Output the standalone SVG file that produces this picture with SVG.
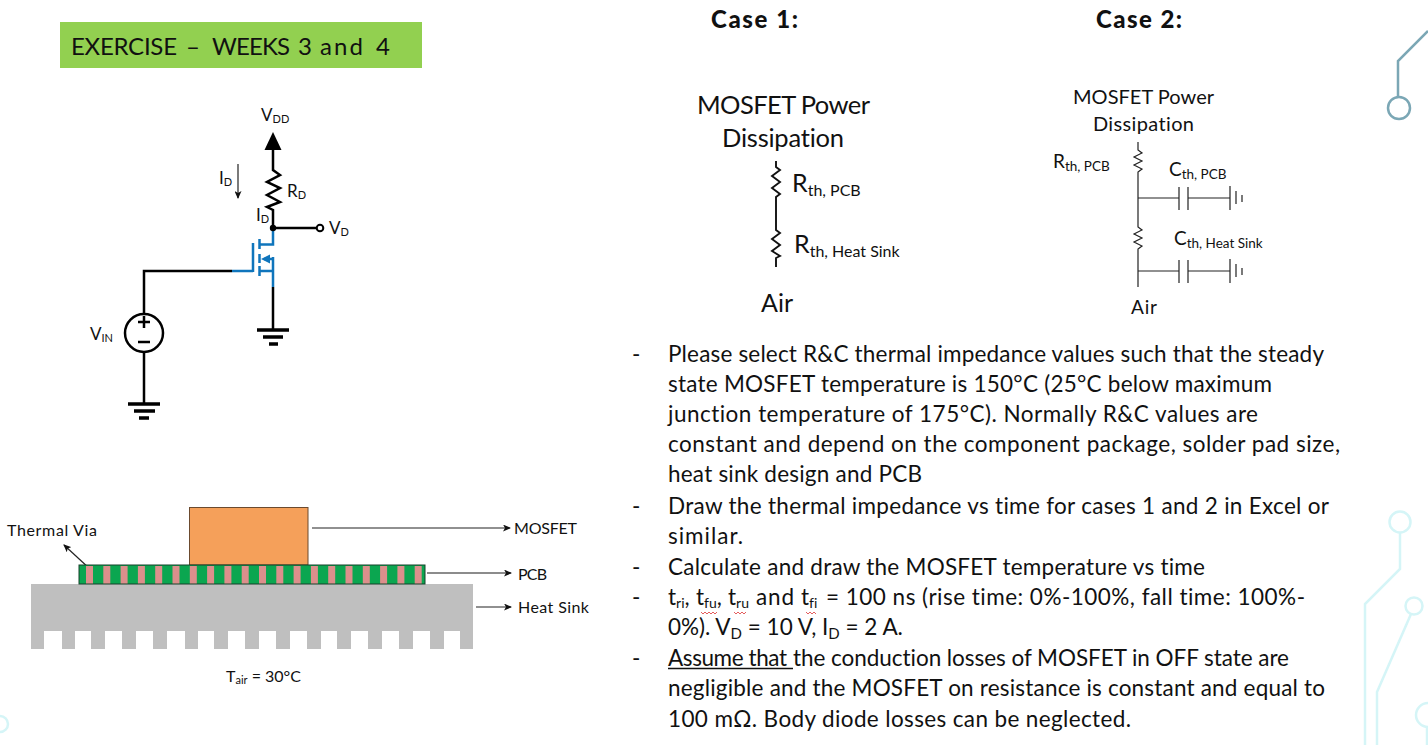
<svg xmlns="http://www.w3.org/2000/svg" width="1428" height="745" viewBox="0 0 1428 745">
<style>
text{font-family:Lato,"Open Sans","Liberation Sans",sans-serif;fill:#111;font-variant-ligatures:none}
.body{font-size:22.5px}
.w{fill:none;stroke:#000;stroke-width:2.5}
.b{fill:none;stroke:#0f75bc;stroke-width:2.5}
.t{fill:none;stroke:#222;stroke-width:1.2}
.z{fill:none;stroke:#111;stroke-width:1.9}
.g{fill:none;stroke:#000;stroke-width:3.5}
.fin{fill:#bfbfbf}
.via{fill:#dc8f8c}
.sq{fill:none;stroke:#d33;stroke-width:.8}
.lb{font-size:17px}
.s{font-size:11px}
</style>
<defs>
<marker id="ah" markerWidth="8" markerHeight="7" refX="7" refY="3.5" orient="auto" markerUnits="userSpaceOnUse"><path d="M0,0L8,3.5L0,7L2,3.5Z" fill="#111"/></marker>
<g id="cap">
<path class="t" d="M0,0H41M41,-11V12M50,-11V12M50,0H92M92,-12V12M98,-7V6M104,-3V4"/>
</g>
</defs>
<rect width="1428" height="745" fill="#fff"/>

<g id="traces" fill="none">
<path d="M1428,31L1398,61V97" stroke="#7ba7b5" stroke-width="2.5"/>
<circle cx="1399" cy="108" r="11" stroke="#7ba7b5" stroke-width="2.5"/>
<g stroke="#d5f5f7" stroke-width="2.5">
<circle cx="1400" cy="522" r="10.5"/>
<path d="M1400,533V569L1365,604V745"/>
<circle cx="1414" cy="606" r="8.5"/>
<path d="M1411,614L1377,692V745"/>
<circle cx="1428" cy="715" r="12"/>
<path d="M1427,727V745"/>
<circle cx="0" cy="724" r="8"/>
</g>
</g>

<g id="title">
<rect x="60" y="22" width="362" height="46" fill="#92d050"/>
<text y="55" font-size="24"><tspan x="71" textLength="106" lengthAdjust="spacing">EXERCISE</tspan> <tspan x="186">–</tspan> <tspan x="212" textLength="78" lengthAdjust="spacing">WEEKS</tspan> <tspan x="298">3</tspan> <tspan x="320" textLength="43" lengthAdjust="spacing">and</tspan> <tspan x="376">4</tspan></text>
</g>
<text id="case1" x="711" y="28" font-size="24" font-weight="900" textLength="87" lengthAdjust="spacing">Case 1:</text>
<text id="case2" x="1096" y="28" font-size="24" font-weight="900" textLength="86" lengthAdjust="spacing">Case 2:</text>

<g id="connectors">
<path class="w" d="M273,150V170L280,175L267,182L280,188L267,195L280,202L267,207L273,210V228H316"/>
<path class="b" d="M273,231V244.500H259M259.500,239V249M259.500,254V263M259.500,266V276M259,271H273M273,257V287M253,243V272M232,271H253"/>
<path class="b" d="M273,259H264"/>
<path class="w" d="M273,287V330M232,271H144V314M144,352V405"/>
<path class="t" d="M238,164V198" marker-end="url(#ah)"/>
<path class="z" d="M776,161V167L780,170L772,176L780,182L772,188L780,194L776,197V230L780,233L772,239L780,245L772,251L780,256L776,258V267"/>
<path class="t" d="M1138,142V150L1142,153L1134,157L1142,161L1134,165L1142,169L1138,172V227L1142,230L1134,234L1142,238L1134,242L1142,246L1138,249V287"/>
<path class="t" d="M90,569L64,545" marker-end="url(#ah)"/>
<path class="t" d="M312,528H510" marker-end="url(#ah)"/>
<path d="M427,573H511" fill="none" stroke="#666" stroke-width="1.5" marker-end="url(#ah)"/>
<path class="t" d="M476,607H511" marker-end="url(#ah)"/>
</g>

<g id="vdd"><path d="M273,132L281.500,150H264.500Z" fill="#000"/>
<text class="lb" x="261" y="121">V<tspan class="s" dy="2">DD</tspan></text></g>
<g id="id-label"><text class="lb" x="219" y="184">I<tspan class="s" dy="2">D</tspan></text>
<text class="lb" x="256" y="221">I<tspan class="s" dy="2">D</tspan></text></g>
<text id="rd" class="lb" x="287" y="197">R<tspan class="s" dy="2">D</tspan></text>
<g id="node-d"><circle cx="273" cy="228" r="3.2" fill="#000"/><circle cx="320" cy="228" r="3.3" fill="#fff" stroke="#000" stroke-width="2"/>
<text class="lb" x="329" y="234">V<tspan class="s" dy="2">D</tspan></text></g>
<path id="mos-arrow" d="M261,259L270,254.500V263.500Z" fill="#0f75bc"/>
<g id="vin"><circle cx="144" cy="333" r="19" fill="#fff" stroke="#000" stroke-width="2.500"/>
<path d="M138,322H150M144,316V328M138,342H150" fill="none" stroke="#000" stroke-width="2.500"/>
<text class="lb" x="90" y="340">V<tspan class="s" dy="2">IN</tspan></text></g>
<g id="gnd1"><path class="g" d="M257,330H289M263,337H283M269,344H278"/></g>
<g id="gnd2"><path class="g" d="M128,404H160M134,411H155M139,418H149"/></g>

<g id="stack">
<rect x="31" y="584" width="442" height="47" fill="#bfbfbf"/>
<g class="fin"><rect x="31" y="631" width="13" height="18"/><rect x="62" y="631" width="13" height="18"/><rect x="91" y="631" width="14" height="18"/><rect x="122" y="631" width="14" height="18"/><rect x="153" y="631" width="14" height="18"/><rect x="185" y="631" width="13" height="18"/><rect x="214" y="631" width="14" height="18"/><rect x="245" y="631" width="14" height="18"/><rect x="276" y="631" width="14" height="18"/><rect x="307" y="631" width="14" height="18"/><rect x="337" y="631" width="14" height="18"/><rect x="368" y="631" width="14" height="18"/><rect x="399" y="631" width="14" height="18"/><rect x="430" y="631" width="14" height="18"/><rect x="460" y="631" width="13" height="18"/></g>
<rect id="mosfet" x="189.500" y="507.500" width="118.500" height="57.500" fill="#f5a05a" stroke="#6b4a2e"/>
<rect x="79" y="565" width="346" height="19" fill="#0ba650"/>
<g class="via"><rect x="86" y="566" width="7" height="18"/><rect x="103.300" y="566" width="7" height="18"/><rect x="120.600" y="566" width="7" height="18"/><rect x="137.900" y="566" width="7" height="18"/><rect x="155.200" y="566" width="7" height="18"/><rect x="172.500" y="566" width="7" height="18"/><rect x="189.800" y="566" width="7" height="18"/><rect x="207.100" y="566" width="7" height="18"/><rect x="224.400" y="566" width="7" height="18"/><rect x="241.700" y="566" width="7" height="18"/><rect x="259" y="566" width="7" height="18"/><rect x="276.300" y="566" width="7" height="18"/><rect x="293.600" y="566" width="7" height="18"/><rect x="310.900" y="566" width="7" height="18"/><rect x="328.200" y="566" width="7" height="18"/><rect x="345.500" y="566" width="7" height="18"/><rect x="362.800" y="566" width="7" height="18"/><rect x="380.100" y="566" width="7" height="18"/><rect x="397.400" y="566" width="7" height="18"/><rect x="414.700" y="566" width="7" height="18"/></g>
<rect x="79" y="565" width="346" height="19" fill="none" stroke="#17402a"/>
</g>
<text x="7" y="536" font-size="16" textLength="90" lengthAdjust="spacing">Thermal Via</text>
<text x="514" y="534" font-size="16" textLength="63" lengthAdjust="spacing">MOSFET</text>
<text x="518" y="580" font-size="16" textLength="29" lengthAdjust="spacing">PCB</text>
<text x="518" y="613" font-size="16" textLength="71" lengthAdjust="spacing">Heat Sink</text>
<text x="226" y="682" font-size="16">T<tspan font-size="11" dy="2">air</tspan><tspan dy="-2"> = 30°C</tspan></text>

<g id="case1-net" font-size="25">
<text x="697" y="114" font-size="25.500" textLength="173" lengthAdjust="spacing">MOSFET Power</text>
<text x="722" y="147" font-size="25.500" textLength="122" lengthAdjust="spacing">Dissipation</text>
<text x="792" y="192" font-size="25">R<tspan font-size="16" dy="4">th, PCB</tspan></text>
<text x="794" y="253" font-size="25">R<tspan font-size="16" dy="4">th, Heat Sink</tspan></text>
<text x="761" y="312" font-size="25" textLength="32" lengthAdjust="spacing">Air</text>
</g>

<g id="case2-net">
<text x="1073" y="104" font-size="20" textLength="141" lengthAdjust="spacing">MOSFET Power</text>
<text x="1093" y="131" font-size="20" textLength="101" lengthAdjust="spacing">Dissipation</text>
<text x="1053" y="168" font-size="19">R<tspan font-size="13.500" dy="3">th, PCB</tspan></text>
<text x="1169" y="176" font-size="19">C<tspan font-size="13.500" dy="3">th, PCB</tspan></text>
<text x="1174" y="245" font-size="19">C<tspan font-size="13.500" dy="3">th, Heat Sink</tspan></text>
<text x="1131" y="314" font-size="19" textLength="26" lengthAdjust="spacing">Air</text>
<use href="#cap" x="1138" y="198"/>
<use href="#cap" x="1138" y="271"/>
</g>

<g id="notes" class="body">
<text x="632" y="362">-</text>
<text x="668" y="362" textLength="656" lengthAdjust="spacing">Please select R&amp;C thermal impedance values such that the steady</text>
<text x="668" y="392" textLength="604" lengthAdjust="spacing">state MOSFET temperature is 150°C (25°C below maximum</text>
<text x="668" y="422" textLength="590" lengthAdjust="spacing">junction temperature of 175°C). Normally R&amp;C values are</text>
<text x="668" y="452" textLength="672" lengthAdjust="spacing">constant and depend on the component package, solder pad size,</text>
<text x="668" y="482" textLength="254" lengthAdjust="spacing">heat sink design and PCB</text>
<text x="632" y="514">-</text>
<text x="668" y="514" textLength="661" lengthAdjust="spacing">Draw the thermal impedance vs time for cases 1 and 2 in Excel or</text>
<text x="668" y="544" textLength="75" lengthAdjust="spacing">similar.</text>
<text x="632" y="575">-</text>
<text x="668" y="575" textLength="537" lengthAdjust="spacing">Calculate and draw the MOSFET temperature vs time</text>
<text x="632" y="605">-</text>
<text x="668" y="605">t<tspan font-size="14" dy="3">ri</tspan><tspan dy="-3">,</tspan></text>
<text x="696" y="605">t<tspan font-size="14" dy="3">fu</tspan><tspan dy="-3">,</tspan></text>
<text x="728" y="605">t<tspan font-size="14" dy="3">ru</tspan></text>
<text x="756" y="605" textLength="38" lengthAdjust="spacing">and</text>
<text x="801" y="605">t<tspan font-size="14" dy="3">fi</tspan></text>
<text x="826" y="605" textLength="479" lengthAdjust="spacing">= 100 ns (rise time: 0%-100%, fall time: 100%-</text>
<path class="sq" d="M701,612l2,2l2,-2l2,2l2,-2l2,2l2,-2l2,2l2,-2M734,612l2,2l2,-2l2,2l2,-2l2,2l2,-2M806,612l2,2l2,-2l2,2l2,-2l2,2"/>
<text x="668" y="635">0%). V<tspan font-size="15" dy="4">D</tspan><tspan dy="-4"> = 10 V, I</tspan><tspan font-size="15" dy="4">D</tspan><tspan dy="-4"> = 2 A.</tspan></text>
<text x="632" y="666">-</text>
<text x="668" y="666" textLength="119" lengthAdjust="spacing">Assume that</text>
<path d="M668,668.500H793" fill="none" stroke="#111" stroke-width="1.300"/>
<text x="793" y="666" textLength="496" lengthAdjust="spacing">the conduction losses of MOSFET in OFF state are</text>
<text x="668" y="696" textLength="657" lengthAdjust="spacing">negligible and the MOSFET on resistance is constant and equal to</text>
<text x="668" y="727" textLength="463" lengthAdjust="spacing">100 mΩ. Body diode losses can be neglected.</text>
</g>
</svg>
